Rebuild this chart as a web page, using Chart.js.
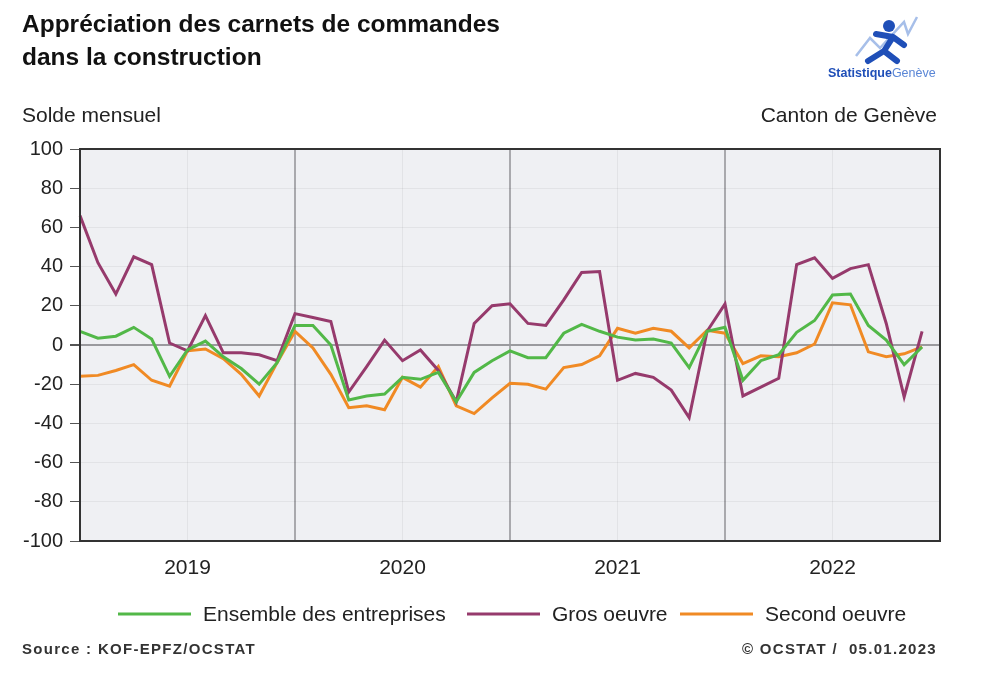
<!DOCTYPE html>
<html>
<head>
<meta charset="utf-8">
<script src="https://cdn.jsdelivr.net/npm/chart.js@4.4.1/dist/chart.umd.min.js"></script>
<style>
  html, body { margin: 0; padding: 0; background: #ffffff; }
  #zone { width: 981px; height: 700px; }
</style>
</head>
<body>
<div id="zone"><canvas id="graphiqueCarnets" width="981" height="700"></canvas></div>
<script>
// années affichées sous l'axe
const annees = ["2019", "2020", "2021", "2022"];
const nomsMois = ["janv.", "févr.", "mars", "avr.", "mai", "juin",
    "juil.", "août", "sept.", "oct.", "nov.", "déc."];

// soldes mensuels, janvier 2019 à décembre 2022
const ensemble = [
    7, 3.5, 4.5, 9, 3, -16, -2.5, 2, -6, -12, -20, -9,
    10, 10, 0, -28, -26, -25, -16.5, -17.5, -14, -29, -14, -8,
    -3, -6.5, -6.5, 6, 10.5, 7, 4, 2.5, 3, 1, -11.5, 7,
    9, -18, -8, -5, 6.5, 12.5, 25.5, 26, 10, 2.5, -10, -1
];
const grosOeuvre = [
    66, 42, 26, 45, 41, 1, -3, 15, -4, -4, -5, -8,
    16, 14, 12, -24, -11, 2.5, -8, -2.5, -13, -29, 11, 20,
    21, 11, 10, 23, 37, 37.5, -18, -14.5, -16.5, -23, -37, 7,
    21, -26, -21.5, -17, 41, 44.5, 34, 39, 41, 11, -26.5, 7
];
const secondOeuvre = [
    -16, -15.5, -13, -10, -18, -21, -3, -2, -7, -15, -26, -9,
    7, -1.5, -15, -32, -31, -33, -16.5, -21.5, -11, -31, -35, -27,
    -19.5, -20, -22.5, -11.5, -10, -5.5, 8.5, 6, 8.5, 7, -1.5, 7.5,
    6, -9.5, -5.5, -6, -4, 0.5, 21.5, 20.5, -3.5, -6, -4.5, -1
];

const couleurs = {
    ensemble: "#52b848",
    gros: "#963a6c",
    second: "#f08a24"
};

// libellés : chaque mois + janvier 2023 pour fermer l'axe
const mois = [];
annees.forEach(a => {
    nomsMois.forEach(m => mois.push(m + " " + a));
});
mois.push("janv. 2023");

const police = "'Liberation Sans', Arial, sans-serif";

const textes = {
    id: "textes",
    beforeDraw(chart) {
        const ctx = chart.ctx;
        const a = chart.chartArea;
        ctx.save();
        ctx.fillStyle = "#eff0f3";
        ctx.fillRect(a.left, a.top, a.right - a.left, a.bottom - a.top);
        ctx.restore();
    },
    afterDraw(chart) {
        const ctx = chart.ctx;
        const a = chart.chartArea;
        ctx.save();

        // cadre
        ctx.strokeStyle = "#333333";
        ctx.lineWidth = 2;
        ctx.strokeRect(a.left, a.top, a.right - a.left, a.bottom - a.top);

        // titre
        ctx.fillStyle = "#111111";
        ctx.textBaseline = "middle";
        ctx.textAlign = "left";
        ctx.font = "bold 24.5px " + police;
        ctx.fillText("Appréciation des carnets de commandes", 22, 25);
        ctx.fillText("dans la construction", 22, 58);

        ctx.font = "21px " + police;
        ctx.fillStyle = "#222222";
        ctx.fillText("Solde mensuel", 22, 116);
        ctx.textAlign = "right";
        ctx.fillText("Canton de Genève", 937, 116);

        // légende
        const items = [
            ["Ensemble des entreprises", couleurs.ensemble, 118],
            ["Gros oeuvre", couleurs.gros, 467],
            ["Second oeuvre", couleurs.second, 680]
        ];
        ctx.textAlign = "left";
        ctx.font = "21px " + police;
        items.forEach(it => {
            ctx.strokeStyle = it[1];
            ctx.lineWidth = 3;
            ctx.beginPath();
            ctx.moveTo(it[2], 614);
            ctx.lineTo(it[2] + 73, 614);
            ctx.stroke();
            ctx.fillStyle = "#222222";
            ctx.fillText(it[0], it[2] + 85, 615);
        });

        // source
        ctx.font = "bold 15px " + police;
        ctx.letterSpacing = "1.3px";
        ctx.fillStyle = "#333333";
        ctx.fillText("Source : KOF-EPFZ/OCSTAT", 22, 650);
        ctx.textAlign = "right";
        ctx.fillText("© OCSTAT /  05.01.2023", 937, 650);
        ctx.letterSpacing = "0px";

        // logo
        ctx.strokeStyle = "#a7bfe9";
        ctx.lineWidth = 2.5;
        ctx.beginPath();
        ctx.moveTo(856, 56);
        ctx.lineTo(870, 38);
        ctx.lineTo(880, 48);
        ctx.lineTo(904, 22);
        ctx.lineTo(908, 34);
        ctx.lineTo(917, 17);
        ctx.stroke();
        ctx.strokeStyle = "#1f4fb8";
        ctx.lineWidth = 6;
        ctx.lineCap = "round";
        ctx.lineJoin = "round";
        ctx.beginPath();
        ctx.moveTo(876, 34);
        ctx.lineTo(893, 37);
        ctx.lineTo(884, 51);
        ctx.lineTo(897, 61);
        ctx.moveTo(884, 51);
        ctx.lineTo(868, 61);
        ctx.moveTo(893, 37);
        ctx.lineTo(904, 45);
        ctx.stroke();
        ctx.fillStyle = "#1f4fb8";
        ctx.beginPath();
        ctx.arc(889, 26, 6, 0, Math.PI * 2);
        ctx.fill();
        ctx.textAlign = "left";
        ctx.font = "bold 12.5px " + police;
        ctx.fillText("Statistique", 828, 74);
        const w = ctx.measureText("Statistique").width;
        ctx.fillStyle = "#5a86d6";
        ctx.font = "12.5px " + police;
        ctx.fillText("Genève", 828 + w, 74);

        ctx.restore();
    }
};

new Chart(
    document.getElementById("graphiqueCarnets"),
    {
        type: "line",
        data: {
            labels: mois,
            datasets: [
                {
                    label: "Ensemble des entreprises",
                    data: ensemble,
                    borderColor: couleurs.ensemble,
                    borderWidth: 3,
                    pointRadius: 0,
                    tension: 0
                },
                {
                    label: "Gros oeuvre",
                    data: grosOeuvre,
                    borderColor: couleurs.gros,
                    borderWidth: 3,
                    pointRadius: 0,
                    tension: 0
                },
                {
                    label: "Second oeuvre",
                    data: secondOeuvre,
                    borderColor: couleurs.second,
                    borderWidth: 3,
                    pointRadius: 0,
                    tension: 0
                }
            ]
        },
        options: {
            responsive: false,
            animation: false,
            layout: {
                padding: { top: 149, right: 41, left: 0, bottom: 0 }
            },
            plugins: {
                legend: { display: false },
                tooltip: { enabled: false }
            },
            scales: {
                x: {
                    type: "category",
                    offset: false,
                    afterFit(scale) {
                        scale.height = 159;
                    },
                    border: { display: false },
                    grid: {
                        drawTicks: false,
                        color: c => {
                            const i = c.index;
                            if (i > 0 && i < 48 && i % 12 === 0) {
                                return "#a9a9ad";
                            }
                            if (i % 12 === 6) {
                                return "rgba(0,0,0,0.05)";
                            }
                            return "rgba(0,0,0,0)";
                        },
                        lineWidth: c => (c.index % 12 === 0 ? 2 : 1)
                    },
                    ticks: {
                        autoSkip: false,
                        maxRotation: 0,
                        padding: 15,
                        color: "#222222",
                        font: { family: police, size: 21 },
                        callback: (val, index) =>
                            index % 12 === 6 ? annees[Math.floor(index / 12)] : ""
                    }
                },
                y: {
                    min: -100,
                    max: 100,
                    afterFit(scale) {
                        scale.width = 80;
                    },
                    border: { display: false },
                    grid: {
                        color: c => (c.tick.value === 0 ? "#9a9a9e" : "rgba(0,0,0,0.05)"),
                        lineWidth: c => (c.tick.value === 0 ? 2 : 1),
                        tickColor: "#555555",
                        tickLength: 10
                    },
                    ticks: {
                        stepSize: 20,
                        padding: 7,
                        color: "#222222",
                        font: { family: police, size: 20 }
                    }
                }
            }
        },
        plugins: [textes]
    }
);
</script>
</body>
</html>
